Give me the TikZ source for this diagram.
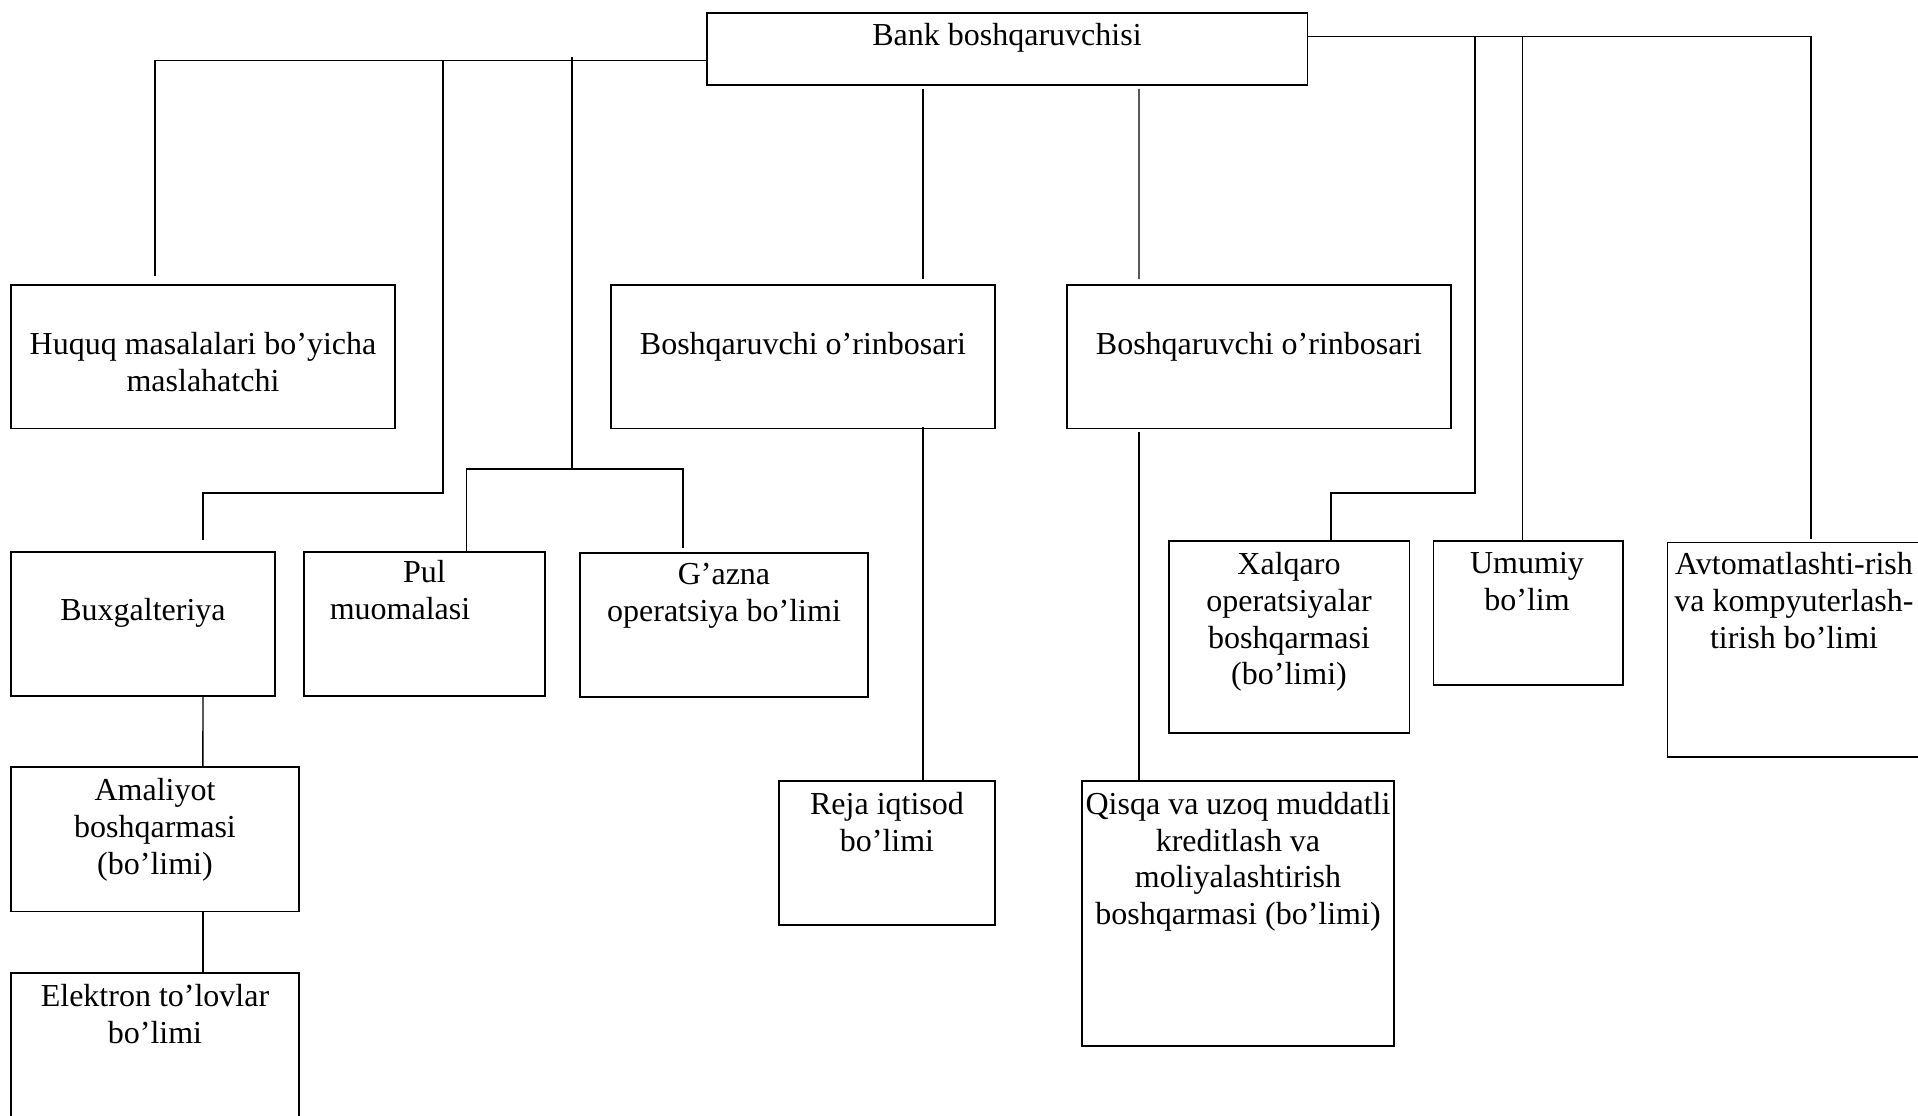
\documentclass[tikz,border=0pt]{standalone}
\usepackage{fontspec}
\setmainfont{Liberation Serif}
\newcommand{\orgfont}{\fontsize{9.1}{10.45}\selectfont}
\tikzset{
  unit/.style={draw, line width=0.5pt, inner sep=0pt},
  caption/.style={font=\orgfont, align=center, inner sep=0pt, anchor=north},
  link/.style={line width=0.4pt},
}
\begin{document}
\begin{tikzpicture}[x=0.01cm, y=-0.01cm]
  \useasboundingbox (0,0) rectangle (1918,1115);

  % boxes: name / centre x / centre y / width / height
  \foreach \name/\x/\y/\w/\h in {boss/1007.3/49.1/600.6/71.8,
      huquq/203/356.8/384/143.6, bosh1/803/356.8/384/143.6, bosh2/1259/356.8/384/143.6,
      bux/143/623.7/264/144.1, pul/424.5/623.7/241/144.1, gazna/724/624.9/288/144.2,
      amal/154.9/839.4/287.8/144.1, elek/154.9/1047.7/287.8/150,
      reja/887/853/216/144, qisqa/1238/913.5/312.7/265,
      xalq/1289.3/637/240.6/192, umum/1528.1/613.1/189.4/144.2, avto/1796.2/649.8/257.6/214.4} {
    \node[unit, minimum width=\w*0.01cm, minimum height=\h*0.01cm] (\name) at (\x,\y) {};
  }

  \node[caption] (boss-t) at (1007,23) {Bank boshqaruvchisi};
  \node[caption] (huquq-t) at (203,331.5) {Huquq masalalari bo’yicha\\maslahatchi};
  \node[caption] (bosh1-t) at (803,331.5) {Boshqaruvchi o’rinbosari};
  \node[caption] (bosh2-t) at (1259,331.5) {Boshqaruvchi o’rinbosari};
  \node[caption] (bux-t) at (143,598) {Buxgalteriya};
  \node[caption] (pul-t) at (424.5,560) {Pul\\muomalasi\hspace*{0.49cm}};
  \node[caption] (gazna-t) at (724,562.7) {G’azna\\operatsiya bo’limi};
  \node[caption] (amal-t) at (155,778) {Amaliyot\\boshqarmasi\\(bo’limi)};
  \node[caption] (elek-t) at (155,983.5) {Elektron to’lovlar\\bo’limi};
  \node[caption] (reja-t) at (887,791.4) {Reja iqtisod\\bo’limi};
  \node[caption] (qisqa-t) at (1238,791.4) {Qisqa va uzoq muddatli\\kreditlash va\\moliyalashtirish\\boshqarmasi (bo’limi)};
  \node[caption] (xalq-t) at (1289,551.7) {Xalqaro\\operatsiyalar\\boshqarmasi\\(bo’limi)};
  \node[caption] (umum-t) at (1527,551.7) {Umumiy\\bo’lim};
  \node[caption] (avto-t) at (1794,551.7) {Avtomatlashti-rish\\va kompyuterlash-\\tirish bo’limi};

  % taps on the two buses
  \coordinate (tapBux) at (443,60.7);
  \coordinate (tapKassa) at (572,57);
  \coordinate (tapXalq) at (1475,36.4);
  \coordinate (tapUmum) at (1522.6,36.4);

  % left bus
  \draw[link] ([shift={(0,11.6)}]boss.west) -| ([shift={(-48,-8)}]huquq.north);
  \draw[link] (tapBux) -- ++(0,432.2) -| ([shift={(60,-11)}]bux.north);
  \draw[link] (tapKassa) -- ++(0,412) coordinate (fork);
  \draw[link] ([shift={(42,0)}]pul.north) |- (fork) -| ([shift={(-41,-4)}]gazna.north);
  \draw[link] ([shift={(60,0)}]bux.south) -- ([shift={(48,0)}]amal.north);
  \draw[link] ([shift={(48,0)}]amal.south) -- ([shift={(48,0)}]elek.north);

  % deputies
  \draw[link] ([shift={(-84.5,3)}]boss.south) -- ([shift={(119.8,-5)}]bosh1.north);
  \draw[link] ([shift={(131.7,3)}]boss.south) -- ([shift={(-120,-5)}]bosh2.north);
  \draw[link] ([shift={(119.8,-2.6)}]bosh1.south) -- ([shift={(35.8,0)}]reja.north);
  \draw[link] ([shift={(-120,2.4)}]bosh2.south) -- ([shift={(-99,0)}]qisqa.north);

  % right bus
  \draw[link] ([shift={(0,-12.7)}]boss.east) -| ([shift={(14.8,-2.6)}]avto.north);
  \draw[link] (tapXalq) -- ++(0,456.5) -| ([shift={(41.7,-0.6)}]xalq.north);
  \draw[link] (tapUmum) -- (tapUmum |- umum.north);
\end{tikzpicture}
\end{document}
